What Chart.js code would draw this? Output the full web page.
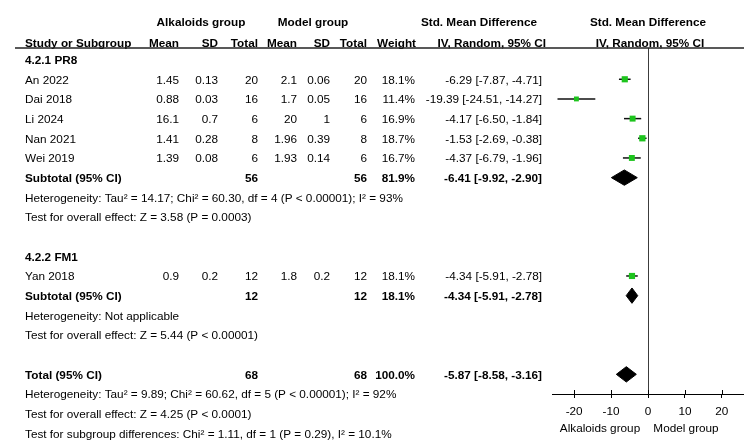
<!DOCTYPE html>
<html>
<head>
<meta charset="utf-8">
<script src="https://cdn.jsdelivr.net/npm/chart.js@4.4.1/dist/chart.umd.min.js"></script>
<style>
  html, body { margin: 0; padding: 0; background: #fff; }
  canvas { display: block; }
</style>
</head>
<body>
<canvas id="forest" width="744" height="445"></canvas>
<script>
// ---- study data ----
const studies   = ["An 2022", "Dai 2018", "Li 2024", "Nan 2021", "Wei 2019", "Yan 2018"];
const studyRows = [1, 2, 3, 4, 5, 11];
const expMean   = [1.45, 0.88, 16.1, 1.41, 1.39, 0.9];
const expSD     = [0.13, 0.03, 0.7, 0.28, 0.08, 0.2];
const expN      = [20, 16, 6, 8, 6, 12];
const ctlMean   = [2.1, 1.7, 20, 1.96, 1.93, 1.8];
const ctlSD     = [0.06, 0.05, 1, 0.39, 0.14, 0.2];
const ctlN      = [20, 16, 6, 8, 6, 12];
const weights   = [18.1, 11.4, 16.9, 18.7, 16.7, 18.1];
const smd       = [-6.29, -19.39, -4.17, -1.53, -4.37, -4.34];
const ciLow     = [-7.87, -24.51, -6.50, -2.69, -6.79, -5.91];
const ciHigh    = [-4.71, -14.27, -1.84, -0.38, -1.96, -2.78];

// ---- subgroup headings ----
const groupNames = ["4.2.1 PR8", "4.2.2 FM1"];
const groupRows  = [0, 10];

// ---- pooled estimates ----
const sumLabels = ["Subtotal (95% CI)", "Subtotal (95% CI)", "Total (95% CI)"];
const sumRows   = [6, 12, 16];
const sumExpN   = [56, 12, 68];
const sumCtlN   = [56, 12, 68];
const sumWeight = [81.9, 18.1, 100.0];
const sumSmd    = [-6.41, -4.34, -5.87];
const sumLow    = [-9.92, -5.91, -8.58];
const sumHigh   = [-2.90, -2.78, -3.16];

// ---- statistics notes ----
const noteRows  = [7, 8, 13, 14, 17, 18, 19];
const noteTexts = [
  "Heterogeneity: Tau\u00b2 = 14.17; Chi\u00b2 = 60.30, df = 4 (P < 0.00001); I\u00b2 = 93%",
  "Test for overall effect: Z = 3.58 (P = 0.0003)",
  "Heterogeneity: Not applicable",
  "Test for overall effect: Z = 5.44 (P < 0.00001)",
  "Heterogeneity: Tau\u00b2 = 9.89; Chi\u00b2 = 60.62, df = 5 (P < 0.00001); I\u00b2 = 92%",
  "Test for overall effect: Z = 4.25 (P < 0.0001)",
  "Test for subgroup differences: Chi\u00b2 = 1.11, df = 1 (P = 0.29), I\u00b2 = 10.1%"
];

// ---- axis ----
const xTicks     = [-20, -10, 0, 10, 20];
const axisLabels = ["Alkaloids group", "Model group"];

// ---- look ----
const FONT = '"Liberation Sans", Arial, sans-serif';
const FSIZE = 11.75;
const GREEN = '#1dc41d';
const DIAMOND_HALF = 0.39;   // half-height of a diamond, in rows
const TEXT_DY = 1.2;         // optical nudge of text against the row centre
const boxRadius = w => Math.sqrt(w) * 1.45 / Math.SQRT2;

const ciText = (e, lo, hi) => `${e.toFixed(2)} [${lo.toFixed(2)}, ${hi.toFixed(2)}]`;

// table columns (right edges unless noted)
const COL = { name: 25, eMean: 179, eSD: 218, eN: 258, cMean: 297, cSD: 330, cN: 367, weight: 415, effect: 542 };

const datasets = [];

// study squares (drawn on top)
datasets.push({
  type: 'scatter',
  order: 0,
  data: studies.map((s, i) => ({ x: smd[i], y: studyRows[i] })),
  pointStyle: 'rect',
  pointRadius: weights.map(boxRadius),
  pointHoverRadius: weights.map(boxRadius),
  pointBackgroundColor: GREEN,
  pointBorderWidth: 0,
  showLine: false
});

// pooled diamonds
sumRows.forEach((r, k) => {
  datasets.push({
    type: 'line',
    order: 1,
    data: [
      { x: sumLow[k], y: r },
      { x: sumSmd[k], y: r - DIAMOND_HALF },
      { x: sumHigh[k], y: r },
      { x: sumSmd[k], y: r + DIAMOND_HALF },
      { x: sumLow[k], y: r }
    ],
    borderColor: '#000',
    borderWidth: 1,
    backgroundColor: '#000',
    fill: 'shape',
    pointRadius: 0,
    tension: 0
  });
});

// confidence interval whiskers
studies.forEach((s, i) => {
  datasets.push({
    type: 'line',
    order: 2,
    data: [{ x: ciLow[i], y: studyRows[i] }, { x: ciHigh[i], y: studyRows[i] }],
    borderColor: '#111',
    borderWidth: 1.5,
    pointRadius: 0,
    fill: false
  });
});

// draws the table, the header rule, the upper half of the tick marks and the axis captions
const tablePlugin = {
  id: 'forestTable',
  afterDraw(chart) {
    const ctx = chart.ctx;
    const ys = chart.scales.y;
    const xs = chart.scales.x;
    const area = chart.chartArea;
    const Y = r => ys.getPixelForValue(r) + TEXT_DY;

    ctx.save();
    ctx.fillStyle = '#000';
    ctx.textBaseline = 'middle';
    const put = (t, x, r, align, bold) => {
      ctx.font = `${bold ? 'bold ' : ''}${FSIZE}px ${FONT}`;
      ctx.textAlign = align;
      ctx.fillText(t, x, typeof r === 'number' ? Y(r) : r.px);
    };

    // header
    const h1 = -1.93, h2 = -0.88;
    put('Alkaloids group', 201, h1, 'center', true);
    put('Model group', 313, h1, 'center', true);
    put('Std. Mean Difference', 479, h1, 'center', true);
    put('Std. Mean Difference', 648, h1, 'center', true);
    put('Study or Subgroup', COL.name, h2, 'left', true);
    put('Mean', COL.eMean, h2, 'right', true);
    put('SD', COL.eSD, h2, 'right', true);
    put('Total', COL.eN, h2, 'right', true);
    put('Mean', COL.cMean, h2, 'right', true);
    put('SD', COL.cSD, h2, 'right', true);
    put('Total', COL.cN, h2, 'right', true);
    put('Weight', 416, h2, 'right', true);
    put('IV, Random, 95% CI', 546, h2, 'right', true);
    put('IV, Random, 95% CI', 650, h2, 'center', true);

    // rule under the header
    ctx.strokeStyle = '#222';
    ctx.lineWidth = 1.3;
    ctx.beginPath();
    ctx.moveTo(15, area.top);
    ctx.lineTo(chart.width, area.top);
    ctx.stroke();

    // subgroup headings
    groupNames.forEach((g, k) => put(g, COL.name, groupRows[k], 'left', true));

    // study rows
    studies.forEach((s, i) => {
      const r = studyRows[i];
      put(s, COL.name, r, 'left', false);
      put(String(expMean[i]), COL.eMean, r, 'right', false);
      put(String(expSD[i]), COL.eSD, r, 'right', false);
      put(String(expN[i]), COL.eN, r, 'right', false);
      put(String(ctlMean[i]), COL.cMean, r, 'right', false);
      put(String(ctlSD[i]), COL.cSD, r, 'right', false);
      put(String(ctlN[i]), COL.cN, r, 'right', false);
      put(weights[i].toFixed(1) + '%', COL.weight, r, 'right', false);
      put(ciText(smd[i], ciLow[i], ciHigh[i]), COL.effect, r, 'right', false);
    });

    // pooled rows
    sumRows.forEach((r, k) => {
      put(sumLabels[k], COL.name, r, 'left', true);
      put(String(sumExpN[k]), COL.eN, r, 'right', true);
      put(String(sumCtlN[k]), COL.cN, r, 'right', true);
      put(sumWeight[k].toFixed(1) + '%', COL.weight, r, 'right', true);
      put(ciText(sumSmd[k], sumLow[k], sumHigh[k]), COL.effect, r, 'right', true);
    });

    // notes
    noteRows.forEach((r, k) => put(noteTexts[k], COL.name, r, 'left', false));

    // tick marks above the axis line
    ctx.strokeStyle = '#000';
    ctx.lineWidth = 1;
    xs.ticks.forEach(t => {
      const px = Math.round(xs.getPixelForValue(t.value)) + 0.5;
      ctx.beginPath();
      ctx.moveTo(px, area.bottom - 4);
      ctx.lineTo(px, area.bottom);
      ctx.stroke();
    });

    // axis captions
    put(axisLabels[0], 600, { px: 428.5 }, 'center', false);
    put(axisLabels[1], 686, { px: 428.5 }, 'center', false);

    ctx.restore();
  }
};

new Chart(document.getElementById('forest'), {
  type: 'scatter',
  data: { datasets },
  options: {
    responsive: false,
    devicePixelRatio: 1,
    animation: false,
    events: [],
    layout: { autoPadding: false, padding: { left: 552, right: 0, top: 48, bottom: 21 } },
    plugins: { legend: { display: false }, tooltip: { enabled: false } },
    scales: {
      x: {
        type: 'linear',
        min: -26,
        max: 26,
        afterBuildTicks: s => { s.ticks = xTicks.map(v => ({ value: v })); },
        afterFit: s => { s.height = 30; s.paddingLeft = 0; s.paddingRight = 0; },
        grid: {
          color: c => (c.tick && c.tick.value === 0) ? '#3c3c3c' : 'rgba(0,0,0,0)',
          tickColor: '#000',
          tickLength: 4,
          lineWidth: 1,
          drawOnChartArea: true
        },
        border: { display: true, color: '#000', width: 1 },
        ticks: {
          color: '#000',
          font: { family: FONT, size: FSIZE },
          padding: 7,
          maxRotation: 0,
          autoSkip: false,
          callback: v => String(v)
        }
      },
      y: {
        type: 'linear',
        reverse: true,
        min: -0.59,
        max: 17,
        display: false
      }
    }
  },
  plugins: [tablePlugin]
});
</script>
</body>
</html>
